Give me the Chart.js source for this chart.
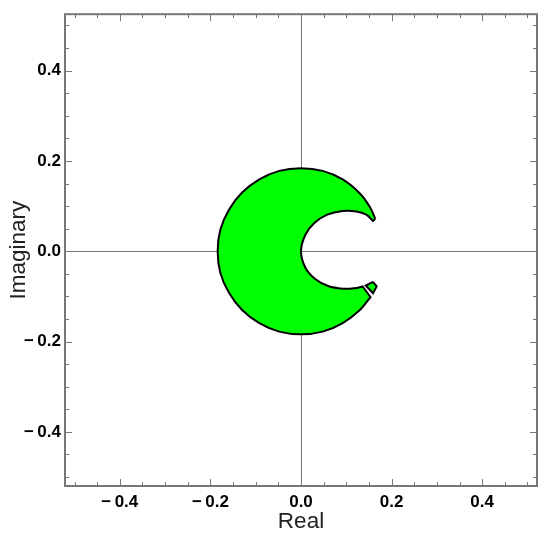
<!DOCTYPE html>
<html>
<head>
<meta charset="utf-8">
<script src="https://cdn.jsdelivr.net/npm/chart.js@4.4.0/dist/chart.umd.min.js"></script>
<style>
  html, body { margin: 0; padding: 0; background: #fff; }
</style>
</head>
<body>
<canvas id="chart" width="550" height="538"></canvas>
<script>
// axis ranges
const realRange = [-0.521, 0.521]
const imagRange = [-0.52, 0.525]

// tick marks
const majorTicks = [-0.4, -0.2, 0, 0.2, 0.4]
const minorTicks = [-0.5, -0.45, -0.35, -0.3, -0.25, -0.15, -0.1, -0.05,
  0.05, 0.1, 0.15, 0.25, 0.3, 0.35, 0.45, 0.5]

// main region boundary (corners listed twice)
const bodyReal = [
  0.164, 0.164, 0.152, 0.130, 0.092, 0.048, 0.000, -0.048, -0.092, -0.130,
  -0.159, -0.178, -0.184, -0.178, -0.159, -0.130, -0.092, -0.048, 0.000,
  0.048, 0.092, 0.130, 0.1535, 0.1535,
  0.136, 0.136, 0.118, 0.092, 0.060, 0.032, 0.010, 0.000, 0.010, 0.030,
  0.058, 0.092, 0.122, 0.144, 0.159, 0.159, 0.164
]
const bodyImag = [
  0.072, 0.072, 0.098, 0.128, 0.159, 0.178, 0.184, 0.178, 0.159, 0.130,
  0.092, 0.048, 0.000, -0.048, -0.092, -0.130, -0.159, -0.178, -0.184,
  -0.178, -0.159, -0.130, -0.1016, -0.1016,
  -0.078, -0.078, -0.082, -0.083, -0.077, -0.062, -0.037, 0.000, 0.037, 0.063,
  0.081, 0.089, 0.088, 0.081, 0.067, 0.067, 0.072
]

// small detached piece near the lower tip
const pieceReal = [0.159, 0.167, 0.159, 0.143, 0.159]
const pieceImag = [-0.068, -0.078, -0.093, -0.076, -0.068]

const fillColor = "#00ff00"
const frameColor = "#777777"

const toPoints = (xs, ys) => xs.map((x, i) => ({ x: x, y: ys[i] }))

const formatTick = (value) => (value < 0 ? "\u2212\u2009" + Math.abs(value).toFixed(1) : value.toFixed(1))

// inward tick marks and frame on all four sides
const frameTicks = {
  id: "frameTicks",
  afterDraw(chart) {
    const { ctx, chartArea: a, scales } = chart
    ctx.save()
    ctx.strokeStyle = frameColor
    const mark = (values, len) => {
      ctx.lineWidth = 1
      ctx.beginPath()
      values.forEach((v) => {
        const px = Math.round(scales.x.getPixelForValue(v)) + 0.5
        ctx.moveTo(px, a.bottom)
        ctx.lineTo(px, a.bottom - len)
        ctx.moveTo(px, a.top)
        ctx.lineTo(px, a.top + len)
        const py = Math.round(scales.y.getPixelForValue(v)) + 0.5
        ctx.moveTo(a.left, py)
        ctx.lineTo(a.left + len, py)
        ctx.moveTo(a.right, py)
        ctx.lineTo(a.right - len, py)
      })
      ctx.stroke()
    }
    mark(majorTicks, 7)
    mark(minorTicks, 4)
    ctx.lineWidth = 2
    ctx.strokeRect(a.left, a.top, a.right - a.left, a.bottom - a.top)
    ctx.restore()
  },
}

const zeroLine = (c) => (c.tick && c.tick.value === 0 ? frameColor : "rgba(0,0,0,0)")

const tickFont = { family: "'Liberation Sans', Arial, sans-serif", size: 17, weight: "bold" }
const titleFont = { family: "'Liberation Sans', Arial, sans-serif", size: 22.5 }

new Chart(document.getElementById("chart"), {
  type: "scatter",
  data: {
    datasets: [
      {
        data: toPoints(bodyReal, bodyImag),
        showLine: true,
        tension: 0.4,
        fill: "shape",
        backgroundColor: fillColor,
        borderColor: "#000000",
        borderWidth: 2,
        pointRadius: 0,
      },
      {
        data: toPoints(pieceReal, pieceImag),
        showLine: true,
        tension: 0,
        fill: "shape",
        backgroundColor: fillColor,
        borderColor: "#000000",
        borderWidth: 2,
        pointRadius: 0,
      },
    ],
  },
  options: {
    responsive: false,
    animation: false,
    layout: { padding: { top: 13, right: 13, left: 0, bottom: 0 } },
    plugins: {
      legend: { display: false },
      tooltip: { enabled: false },
    },
    scales: {
      x: {
        type: "linear",
        min: realRange[0],
        max: realRange[1],
        z: 1,
        afterBuildTicks: (scale) => {
          scale.ticks = majorTicks.map((v) => ({ value: v }))
        },
        afterFit: (scale) => {
          scale.height = 52
        },
        border: { display: false },
        grid: { color: zeroLine, lineWidth: 1, drawTicks: false },
        ticks: {
          padding: 6,
          color: "#000000",
          font: tickFont,
          maxRotation: 0,
          callback: (value) => formatTick(value),
        },
        title: {
          display: true,
          text: "Real",
          color: "#222222",
          font: titleFont,
          padding: { top: 0, bottom: 3 },
        },
      },
      y: {
        type: "linear",
        min: imagRange[0],
        max: imagRange[1],
        z: 1,
        afterBuildTicks: (scale) => {
          scale.ticks = majorTicks.map((v) => ({ value: v }))
        },
        afterFit: (scale) => {
          scale.width = 65
        },
        border: { display: false },
        grid: { color: zeroLine, lineWidth: 1, drawTicks: false },
        ticks: {
          padding: 4,
          color: "#000000",
          font: tickFont,
          callback: (value) => formatTick(value),
        },
        title: {
          display: true,
          text: "Imaginary",
          color: "#222222",
          font: titleFont,
          padding: { top: 5, bottom: 0 },
        },
      },
    },
  },
  plugins: [frameTicks],
})
</script>
</body>
</html>
